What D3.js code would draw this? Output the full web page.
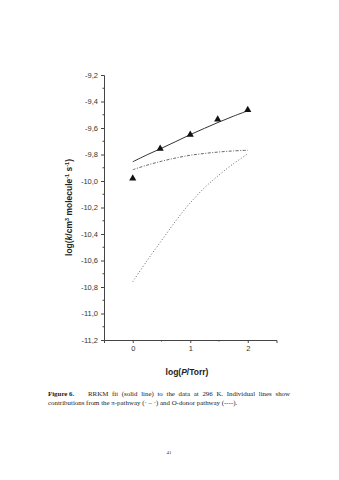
<!DOCTYPE html>
<html>
<head>
<meta charset="utf-8">
<script src="https://cdn.jsdelivr.net/npm/d3@7"></script>
<style>
  html, body { margin: 0; padding: 0; background: #fff; }
  svg { display: block; }
</style>
</head>
<body>
<script>
// Measured rate coefficients at 296 K
const dataLogP = [0, 0.477, 1, 1.477, 2];
const dataLogK = [-9.98, -9.756, -9.650, -9.535, -9.464];

// RRKM model curves, sampled on a common pressure grid
const curveLogP = [0, 0.25, 0.5, 0.75, 1, 1.25, 1.5, 1.75, 2];
const totalFit  = [-9.855, -9.802, -9.753, -9.702, -9.650, -9.602, -9.555, -9.511, -9.470];
const piPath    = [-9.915, -9.880, -9.851, -9.826, -9.806, -9.792, -9.781, -9.773, -9.768];
const oDonor    = [-10.76, -10.60, -10.45, -10.30, -10.165, -10.05, -9.955, -9.87, -9.795];

const yTicks = [-11.2, -11.0, -10.8, -10.6, -10.4, -10.2, -10.0, -9.8, -9.6, -9.4, -9.2];
const xTicks = [0, 1, 2];

const W = 339, H = 480;
const svg = d3.select("body").append("svg").attr("width", W).attr("height", H);

const x = d3.scaleLinear().domain([-0.5, 2.5]).range([104, 276.5]);
const y = d3.scaleLinear().domain([-11.2, -9.2]).range([340, 75]);

const fmt = d => d.toFixed(1).replace(".", ",");
const sans = "'Liberation Sans', Arial, sans-serif";
const serif = "'Liberation Serif', 'Times New Roman', serif";

// y axis
const yAxis = d3.axisLeft(y).tickValues(yTicks).tickFormat(fmt).tickSize(3).tickPadding(3);
const gy = svg.append("g").attr("transform", `translate(${x(-0.5)},0)`).call(yAxis);
gy.select(".domain").attr("stroke", "#444").attr("stroke-width", 1);
gy.selectAll(".tick line").attr("stroke", "#444");
gy.selectAll(".tick text").attr("font-family", sans)
  .attr("font-size", 7.5).attr("fill", "#333");
// minor y ticks
svg.append("g").selectAll("line")
  .data(d3.range(-11.1, -9.2, 0.2))
  .join("line")
  .attr("x1", x(-0.5) - 1.5).attr("x2", x(-0.5))
  .attr("y1", d => y(d)).attr("y2", d => y(d))
  .attr("stroke", "#444");

// x axis
const xAxis = d3.axisBottom(x).tickValues(xTicks).tickFormat(d3.format("d")).tickSize(3).tickPadding(3);
const gx = svg.append("g").attr("transform", `translate(0,${y(-11.2)})`).call(xAxis);
gx.select(".domain").attr("stroke", "#444").attr("stroke-width", 1);
gx.selectAll(".tick line").attr("stroke", "#444");
gx.selectAll(".tick text").attr("font-family", sans)
  .attr("font-size", 7.5).attr("fill", "#333");
svg.append("g").selectAll("line")
  .data([0.5, 1.5])
  .join("line")
  .attr("x1", d => x(d)).attr("x2", d => x(d))
  .attr("y1", y(-11.2)).attr("y2", y(-11.2) + 1.5)
  .attr("stroke", "#444");

// axis titles
const xt = svg.append("text")
  .attr("x", 187).attr("y", 375)
  .attr("text-anchor", "middle")
  .attr("font-family", sans)
  .attr("font-size", 8.5).attr("font-weight", "bold").attr("fill", "#222");
xt.append("tspan").text("log(");
xt.append("tspan").attr("font-style", "italic").text("P");
xt.append("tspan").text("/Torr)");

const yt = svg.append("text")
  .attr("transform", `translate(72,${(y(-11.2) + y(-9.2)) / 2}) rotate(-90)`)
  .attr("text-anchor", "middle")
  .attr("font-family", sans)
  .attr("font-size", 8.5).attr("font-weight", "bold").attr("fill", "#222");
yt.append("tspan").text("log(");
yt.append("tspan").attr("font-style", "italic").text("k");
yt.append("tspan").text("/cm");
yt.append("tspan").attr("font-size", 5.5).attr("dy", -3.5).text("3");
yt.append("tspan").attr("dy", 3.5).text(" molecule");
yt.append("tspan").attr("font-size", 5.5).attr("dy", -3.5).text("-1");
yt.append("tspan").attr("dy", 3.5).text(" s");
yt.append("tspan").attr("font-size", 5.5).attr("dy", -3.5).text("-1");
yt.append("tspan").attr("dy", 3.5).text(")");

// model curves
const line = d3.line().x(d => x(d[0])).y(d => y(d[1])).curve(d3.curveCatmullRom.alpha(0.5));
const series = [
  { vals: oDonor,   dash: "1,2",         color: "#666", w: 1 },
  { vals: piPath,   dash: "3,1.5,1,1.5", color: "#666", w: 1 },
  { vals: totalFit, dash: null,          color: "#333", w: 1 }
];
series.forEach(s => {
  svg.append("path")
    .datum(curveLogP.map((p, i) => [p, s.vals[i]]))
    .attr("d", line)
    .attr("fill", "none")
    .attr("stroke", s.color)
    .attr("stroke-width", s.w)
    .attr("stroke-dasharray", s.dash);
});

// data points
svg.append("g").selectAll("path")
  .data(dataLogP.map((p, i) => [p, dataLogK[i]]))
  .join("path")
  .attr("d", d3.symbol(d3.symbolTriangle, 22))
  .attr("transform", d => `translate(${x(d[0])},${y(d[1])})`)
  .attr("fill", "#111");

// caption; the first line is justified to the text block by widening word gaps
const cap = svg.append("g")
  .attr("font-family", serif)
  .attr("font-size", 6.9).attr("fill", "#222");
cap.append("text").attr("x", 48).attr("y", 396)
  .attr("font-weight", "bold").text("Figure 6.");
const firstLine = cap.append("text").attr("x", 88).attr("y", 396)
  .text("RRKM fit (solid line) to the data at 296 K. Individual lines show");
const natural = firstLine.node().getComputedTextLength();
const gaps = firstLine.text().split(" ").length - 1;
firstLine.attr("word-spacing", Math.max(0, (202 - natural) / gaps));
cap.append("text").attr("x", 48).attr("y", 405)
  .text("contributions from the \u03c0-pathway (\u00b7 \u2013 \u00b7) and O-donor pathway (----).");

svg.append("text").attr("x", 169).attr("y", 454)
  .attr("text-anchor", "middle")
  .attr("font-family", serif)
  .attr("font-size", 5).attr("fill", "#333").text("41");
</script>
</body>
</html>
